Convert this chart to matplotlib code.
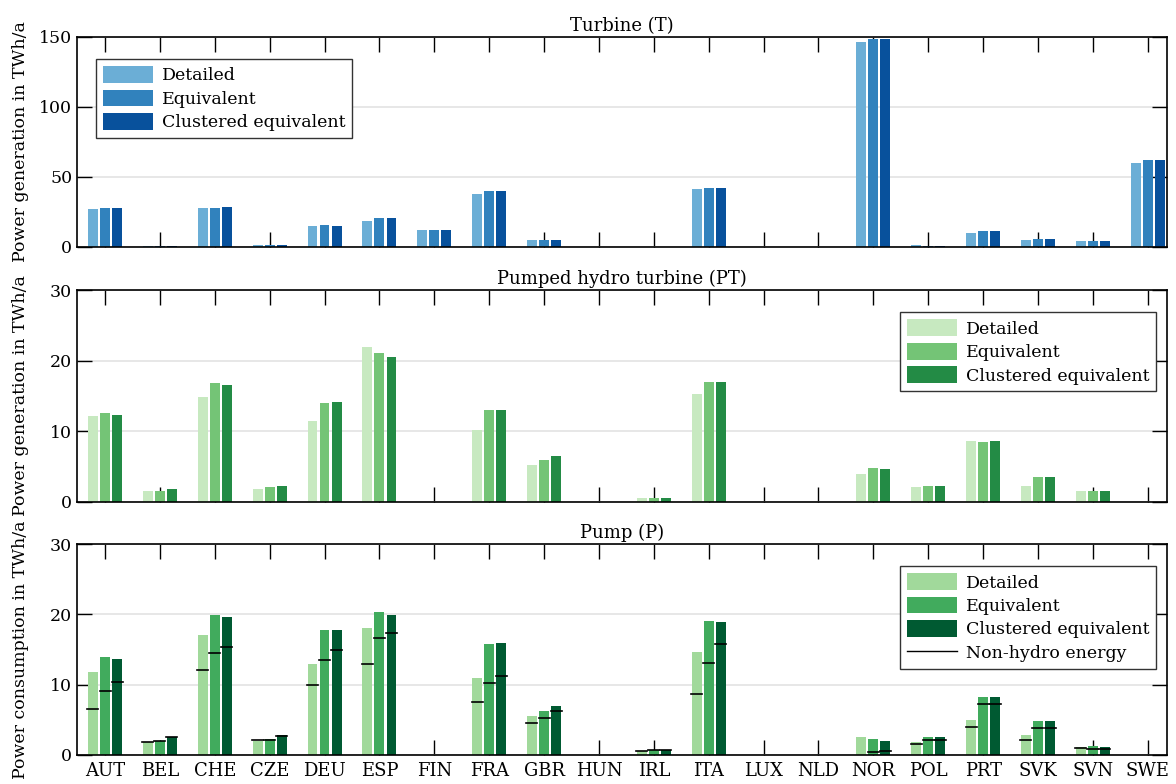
import numpy as np
import matplotlib
matplotlib.use("Agg")
import matplotlib.pyplot as plt
from matplotlib.lines import Line2D

plt.rcParams['font.family'] = ['DejaVu Serif']
plt.rcParams['font.size'] = 12.5

countries = ["AUT", "BEL", "CHE", "CZE", "DEU", "ESP", "FIN", "FRA", "GBR", "HUN",
             "IRL", "ITA", "LUX", "NLD", "NOR", "POL", "PRT", "SVK", "SVN", "SWE"]

# Turbine (T), TWh/a
t_detailed = [26.9, 0.5, 27.6, 1.2, 14.8, 18.4, 11.9, 37.6, 4.8, 0.3,
              0.3, 41.2, 0.1, 0.1, 146.2, 1.2, 9.8, 4.8, 4.1, 59.8]
t_equivalent = [27.6, 0.5, 27.6, 1.2, 15.5, 20.5, 11.9, 39.8, 4.8, 0.3,
                0.3, 41.9, 0.1, 0.1, 148.4, 1.0, 11.2, 5.5, 4.1, 61.9]
t_clustered = [27.6, 0.5, 28.4, 1.2, 14.8, 20.5, 11.9, 39.8, 4.8, 0.3,
               0.3, 41.9, 0.1, 0.1, 148.4, 1.0, 11.2, 5.5, 4.1, 61.9]

# Pumped hydro turbine (PT), TWh/a
pt_detailed = [12.1, 1.5, 14.8, 1.9, 11.4, 21.9, 0, 10.2, 5.3, 0,
               0.5, 15.3, 0, 0, 3.9, 2.1, 8.7, 2.2, 1.5, 0]
pt_equivalent = [12.6, 1.5, 16.8, 2.1, 14.0, 21.1, 0, 13.0, 6.0, 0,
                 0.5, 17.0, 0, 0, 4.8, 2.2, 8.5, 3.6, 1.5, 0]
pt_clustered = [12.3, 1.8, 16.5, 2.2, 14.1, 20.5, 0, 13.0, 6.5, 0,
                0.5, 17.0, 0, 0, 4.6, 2.2, 8.6, 3.5, 1.5, 0]

# Pump (P), TWh/a
p_detailed = [11.8, 1.9, 17.0, 2.0, 13.0, 18.0, 0, 11.0, 5.5, 0,
              0.6, 14.6, 0, 0, 2.6, 1.9, 5.0, 2.8, 1.1, 0]
p_equivalent = [14.0, 2.0, 19.9, 2.3, 17.8, 20.3, 0, 15.8, 6.2, 0,
                0.7, 19.0, 0, 0, 2.3, 2.6, 8.2, 4.9, 1.3, 0]
p_clustered = [13.6, 2.5, 19.6, 2.8, 17.8, 19.9, 0, 15.9, 7.0, 0,
               0.7, 18.9, 0, 0, 2.0, 2.5, 8.2, 4.9, 1.2, 0]

# Non-hydro energy share of pump consumption, TWh/a
nh_detailed = [6.5, 1.9, 12.1, 2.1, 10.0, 13.0, 0, 7.5, 4.5, 0,
               0.6, 8.7, 0, 0, 0.0, 1.6, 4.0, 2.1, 1.0, 0]
nh_equivalent = [9.1, 2.0, 14.5, 2.2, 13.5, 16.7, 0, 10.2, 5.3, 0,
                 0.7, 13.1, 0, 0, 0.4, 2.1, 7.3, 3.9, 0.9, 0]
nh_clustered = [10.4, 2.5, 15.4, 2.7, 14.9, 17.3, 0, 11.3, 6.3, 0,
                0.7, 15.8, 0, 0, 0.6, 2.1, 7.3, 3.9, 0.9, 0]

series_labels = ["Detailed", "Equivalent", "Clustered equivalent"]
blues = ["#6baed6", "#3182bd", "#08519c"]
greens_pt = ["#c7e9c0", "#74c476", "#238b45"]
greens_p = ["#a1d99b", "#41ab5d", "#005a32"]

x = np.arange(1, len(countries) + 1)
offsets = [-0.22, 0.0, 0.22]
bw = 0.18

fig = plt.figure(figsize=(11.76, 7.84), dpi=100)
left, width = 0.0655, 0.9268
ax1 = fig.add_axes([left, 0.685, width, 0.268])
ax2 = fig.add_axes([left, 0.3597, width, 0.2704])
ax3 = fig.add_axes([left, 0.037, width, 0.2691])

leg_kw = dict(fancybox=False, edgecolor="#333333", framealpha=1, handlelength=2.9,
              handleheight=1.1, borderpad=0.4, labelspacing=0.3, handletextpad=0.5,
              fontsize=12.5)


def style(ax, ymax, yticks, ylabel, title):
    ax.set_xlim(0.49, 20.35)
    ax.set_ylim(0, ymax)
    ax.set_yticks(yticks)
    ax.set_xticks(x)
    ax.grid(axis="y", color="#e3e3e3", lw=1.2)
    ax.set_axisbelow(True)
    ax.tick_params(direction="in", length=11, width=1, top=True, right=True, labelsize=12.5)
    ax.set_ylabel(ylabel, fontsize=12.5)
    ax.set_title(title, fontsize=13, pad=4)
    for s in ax.spines.values():
        s.set_linewidth(1.2)


def bars(ax, data, colors):
    for vals, off, c, lab in zip(data, offsets, colors, series_labels):
        ax.bar(x + off, vals, width=bw, color=c, label=lab, zorder=2)


bars(ax1, [t_detailed, t_equivalent, t_clustered], blues)
style(ax1, 150, [0, 50, 100, 150], "Power generation in TWh/a", "Turbine (T)")
ax1.set_xticklabels([])
ax1.legend(loc="upper left", bbox_to_anchor=(0.0095, 0.935), **leg_kw)

bars(ax2, [pt_detailed, pt_equivalent, pt_clustered], greens_pt)
style(ax2, 30, [0, 10, 20, 30], "Power generation in TWh/a", "Pumped hydro turbine (PT)")
ax2.set_xticklabels([])
ax2.legend(loc="upper right", bbox_to_anchor=(0.998, 0.935), **leg_kw)

bars(ax3, [p_detailed, p_equivalent, p_clustered], greens_p)
for vals, off in zip([nh_detailed, nh_equivalent, nh_clustered], offsets):
    for xi, v in zip(x, vals):
        if v > 0:
            ax3.plot([xi + off - bw / 2 - 0.01, xi + off + bw / 2 + 0.01], [v, v],
                     color="black", lw=1.2, zorder=3)
style(ax3, 30, [0, 10, 20, 30], "Power consumption in TWh/a", "Pump (P)")
ax3.set_xticklabels(countries, fontsize=13)
ax3.tick_params(axis="x", pad=5)
h, l = ax3.get_legend_handles_labels()
h.append(Line2D([0], [0], color="black", lw=1.0))
l.append("Non-hydro energy")
ax3.legend(h, l, loc="upper right", bbox_to_anchor=(0.998, 0.935), **leg_kw)

for ax in (ax1, ax2, ax3):
    ax.yaxis.set_label_coords(-0.044, 0.5)

fig.savefig("out.png", dpi=100)
